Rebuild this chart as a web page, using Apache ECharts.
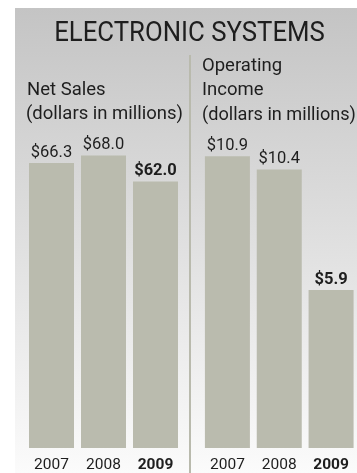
<!DOCTYPE html>
<html>
<head>
<meta charset="utf-8">
<script src="https://cdn.jsdelivr.net/npm/echarts@6/dist/echarts.min.js"></script>
<style>
  html, body { margin: 0; padding: 0; background: #ffffff; }
  #chart { width: 357px; height: 473px; }
</style>
</head>
<body>
<div id="chart"></div>
<script>
// Electronic Systems segment: net sales and operating income, 2007-2009
const years = ['2007', '2008', '2009'];
const netSales = [66.3, 68.0, 62.0];
const operatingIncome = [10.9, 10.4, 5.9];
const highlightYear = '2009';

const FONT = 'Roboto';
const INK = '#1e1e1e';
const BAR = '#babbae';

const chart = echarts.init(document.getElementById('chart'), null, { renderer: 'canvas' });

function money(v) { return '$' + v.toFixed(1); }

function barSeries(values, axisIndex) {
  return {
    type: 'bar',
    xAxisIndex: axisIndex,
    yAxisIndex: axisIndex,
    barWidth: 45,
    itemStyle: { color: BAR },
    silent: true,
    data: values.map((v, i) => ({
      value: v,
      label: years[i] === highlightYear ? { fontWeight: 'bold' } : {}
    })),
    label: {
      show: true,
      position: 'top',
      distance: 2,
      fontFamily: FONT,
      fontSize: 16.5,
      color: INK,
      formatter: p => money(p.value)
    }
  };
}

function yearAxis(gridIndex) {
  return {
    type: 'category',
    gridIndex,
    data: years,
    axisLine: { show: false },
    axisTick: { show: false },
    axisLabel: {
      interval: 0,
      margin: 9,
      fontFamily: FONT,
      fontSize: 15.5,
      color: INK,
      formatter: v => v === highlightYear ? '{b|' + v + '}' : v,
      rich: { b: { fontWeight: 'bold', fontFamily: FONT, fontSize: 15.5, color: INK } }
    }
  };
}

function valueAxis(gridIndex, max) {
  return {
    type: 'value', gridIndex, min: 0, max,
    show: false, splitLine: { show: false }
  };
}

function label(text, x, y, size, extra, scaleX) {
  return {
    type: 'text', x, y, silent: true,
    scaleX: scaleX || 1,
    style: Object.assign({
      text, fontFamily: FONT, fontSize: size, fill: INK,
      align: 'left', verticalAlign: 'middle'
    }, extra || {})
  };
}

chart.setOption({
  animation: false,
  backgroundColor: '#ffffff',
  grid: [
    { left: 25.5, width: 156, top: 104, bottom: 24 },
    { left: 201.5, width: 156, top: 104, bottom: 24 }
  ],
  xAxis: [yearAxis(0), yearAxis(1)],
  yAxis: [valueAxis(0, 80), valueAxis(1, 12.85)],
  graphic: [
    {
      type: 'rect', z: -10, silent: true,
      shape: { x: 15, y: 8, width: 342, height: 465 },
      style: {
        fill: new echarts.graphic.LinearGradient(0, 0, 0, 1, [
          { offset: 0, color: '#c4c4c4' },
          { offset: 1, color: '#fbfbfb' }
        ])
      }
    },
    {
      type: 'rect', z: -5, silent: true,
      shape: { x: 189, y: 55, width: 2, height: 418 },
      style: { fill: '#b9baad' }
    },
    // condensed headline
    label('ELECTRONIC SYSTEMS', 189.5, 33.5, 28, { align: 'center' }, 0.92),
    label('Net Sales', 27, 90, 18.5),
    label('(dollars in millions)', 26, 114.5, 18.5),
    label('Operating', 202, 66, 18.5),
    label('Income', 202, 90.5, 18.5),
    label('(dollars in millions)', 202, 115, 18.5, null, 0.98)
  ],
  series: [barSeries(netSales, 0), barSeries(operatingIncome, 1)]
});
</script>
</body>
</html>
